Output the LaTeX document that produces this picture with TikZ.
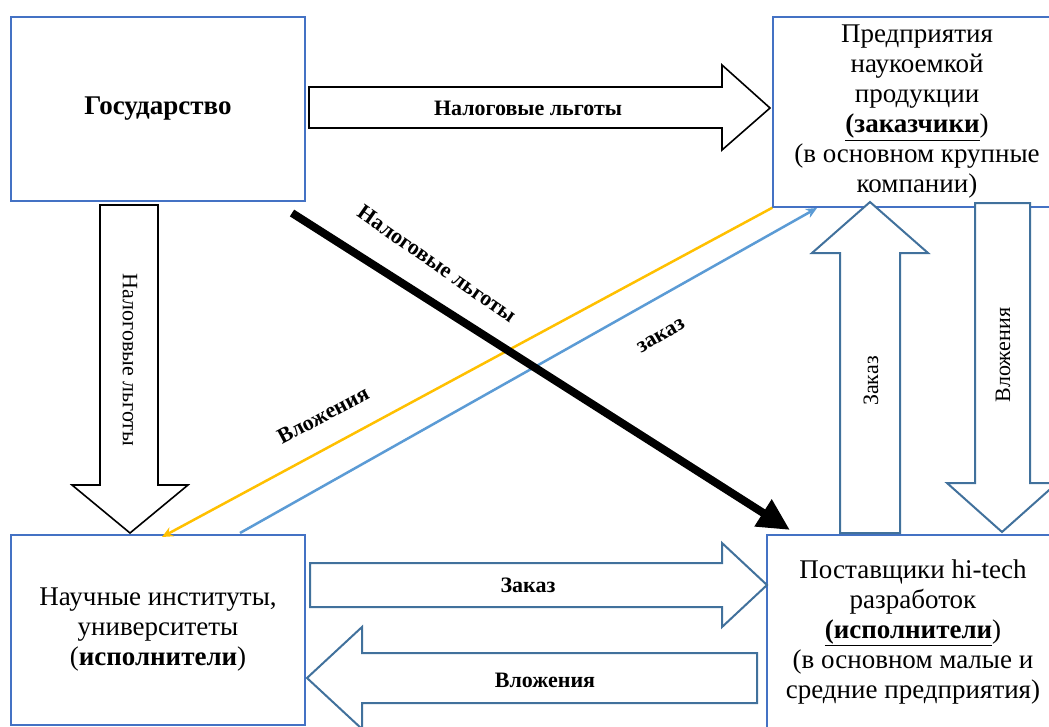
\documentclass[tikz,border=0pt]{standalone}
\usepackage{fontspec}
\setmainfont{Liberation Serif}
\usetikzlibrary{arrows.meta,calc}
\definecolor{boxblue}{RGB}{68,114,196}
\definecolor{arrblue}{RGB}{65,113,156}
\definecolor{lineyellow}{RGB}{255,192,0}
\definecolor{lineblue}{RGB}{91,155,213}
\tikzset{
  boxnode/.style={draw=boxblue,line width=1.5pt,fill=white,rectangle,align=center,inner sep=0pt,
    font=\fontsize{27}{30}\selectfont},
  blackblock/.style={draw=black,line width=1.6pt,fill=white,line join=miter},
  blueblock/.style={draw=arrblue,line width=2pt,fill=white,line join=miter},
  lbl/.style={font=\fontsize{22}{24}\selectfont\bfseries,inner sep=0pt},
  lblreg/.style={font=\fontsize{22}{24}\selectfont,inner sep=0pt},
}
\begin{document}
\begin{tikzpicture}[x=1pt,y=-1pt]
\useasboundingbox (0,0) rectangle (1049,726);
\clip (0,0) rectangle (1049,726);
\fill[white] (0,0) rectangle (1049,726);
% boxes
\node[boxnode,minimum width=294pt,minimum height=184pt,font=\fontsize{27}{30}\selectfont\bfseries] (gos) at (158,109) {Государство};
\node[boxnode,minimum width=288pt,minimum height=190pt] (pr) at (917,112)
  {Предприятия\\наукоемкой\\продукции\\\underline{\textbf{(заказчики}})\\(в основном крупные\\компании)};
\node[boxnode,minimum width=294pt,minimum height=190pt] (ni) at (158,630)
  {Научные институты,\\университеты\\(\textbf{исполнители})};
\node[boxnode,minimum width=292pt,minimum height=194pt] (po) at (913,632)
  {Поставщики hi-tech\\разработок\\\underline{\textbf{(исполнители}})\\(в основном малые и\\средние предприятия)};
% block arrows
\draw[blackblock] (309,87) -- (722,87) -- (722,65) -- (770,108) -- (722,150) -- (722,128) -- (309,128) -- cycle;
\node[lbl] (t1) at (528,108) {Налоговые льготы};
\draw[blackblock] (100,205) -- (158,205) -- (158,485) -- (188,485) -- (130,533) -- (72,485) -- (100,485) -- cycle;
\node[lblreg,rotate=-90] (t2) at (130,360) {Налоговые льготы};
\draw[blueblock] (840,533) -- (840,253) -- (812,253) -- (870,202) -- (928,253) -- (900,253) -- (900,533) -- cycle;
\node[lblreg,rotate=90] (t3) at (871,381) {Заказ};
\draw[blueblock] (975,203) -- (1030,203) -- (1030,483) -- (1057,483) -- (1002,532) -- (947,483) -- (975,483) -- cycle;
\node[lblreg,rotate=90] (t4) at (1003,355) {Вложения};
\draw[blueblock] (310,563) -- (722,563) -- (722,543) -- (767,585) -- (722,627) -- (722,607) -- (310,607) -- cycle;
\node[lbl] (t5) at (528,585) {Заказ};
\draw[blueblock] (757,653) -- (757,703) -- (362,703) -- (362,729) -- (307,678) -- (362,627) -- (362,653) -- cycle;
\node[lbl] (t6) at (545,680) {Вложения};
% diagonal connectors
\coordinate (ys) at (pr.south west);
\coordinate (ye) at (162,537);
\coordinate (bs) at (240,533);
\coordinate (be) at (817,208);
\coordinate (ks) at (292,213);
\coordinate (ke) at (790,530);
\draw[lineyellow,line width=2.5pt,-{Stealth[length=11pt,width=10pt]}] (ys) -- (ye);
\draw[lineblue,line width=2.5pt,-{Stealth[length=11pt,width=10pt]}] (bs) -- (be);
\draw[black,line width=8pt,-{Triangle[length=32pt,width=30pt]}] (ks) -- (ke);
\node[lbl,rotate=-35] (d1) at (437,264) {Налоговые льготы};
\node[lbl,rotate=28] (d2) at (323,415) {Вложения};
\node[lbl,rotate=30] (d3) at (661,336) {заказ};
\end{tikzpicture}
\end{document}
